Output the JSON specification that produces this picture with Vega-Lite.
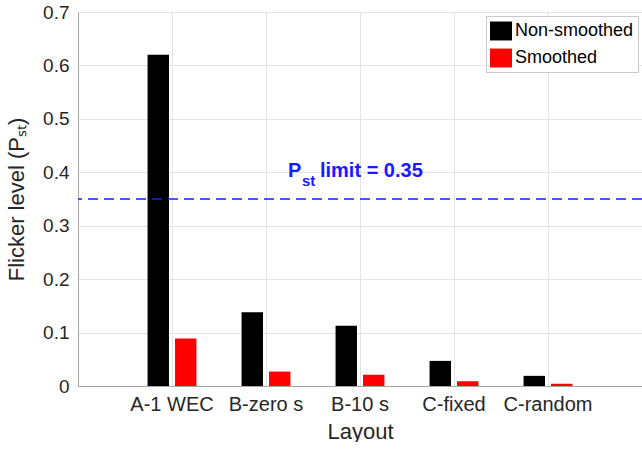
{
  "$schema": "https://vega.github.io/schema/vega-lite/v6.json",
  "width": 564,
  "height": 374,
  "padding": {"left": 5, "top": 3, "right": 0, "bottom": 0},
  "config": {
    "font": "Liberation Sans",
    "view": {"stroke": "#a6a6a6", "strokeWidth": 1},
    "axis": {
      "labelColor": "#262626",
      "titleColor": "#262626",
      "titleFontWeight": "normal",
      "domainColor": "#a6a6a6",
      "gridColor": "#e3e3e3",
      "ticks": false
    }
  },
  "layer": [
    {
      "data": {
        "values": [
          {"layout": "A-1 WEC", "series": "Non-smoothed", "pst": 0.62},
          {"layout": "A-1 WEC", "series": "Smoothed", "pst": 0.089},
          {"layout": "B-zero s", "series": "Non-smoothed", "pst": 0.138},
          {"layout": "B-zero s", "series": "Smoothed", "pst": 0.027},
          {"layout": "B-10 s", "series": "Non-smoothed", "pst": 0.113},
          {"layout": "B-10 s", "series": "Smoothed", "pst": 0.021},
          {"layout": "C-fixed", "series": "Non-smoothed", "pst": 0.047},
          {"layout": "C-fixed", "series": "Smoothed", "pst": 0.009},
          {"layout": "C-random", "series": "Non-smoothed", "pst": 0.019},
          {"layout": "C-random", "series": "Smoothed", "pst": 0.004}
        ]
      },
      "mark": {"type": "bar"},
      "encoding": {
        "x": {
          "field": "layout",
          "type": "nominal",
          "sort": null,
          "scale": {"paddingInner": 0.48, "paddingOuter": 0.74},
          "axis": {
            "title": "Layout",
            "titleFontSize": 22,
            "titlePadding": 7,
            "labelAngle": 0,
            "labelFontSize": 20,
            "labelPadding": 8,
            "grid": true,
            "bandPosition": 0.5
          }
        },
        "xOffset": {
          "field": "series",
          "type": "nominal",
          "sort": null,
          "scale": {"paddingInner": 0.22, "paddingOuter": 0}
        },
        "y": {
          "field": "pst",
          "type": "quantitative",
          "scale": {"domain": [0, 0.7], "nice": false},
          "axis": {
            "title": "Flicker level (Pₛₜ)",
            "titleFontSize": 22,
            "titlePadding": 14,
            "values": [0, 0.1, 0.2, 0.3, 0.4, 0.5, 0.6, 0.7],
            "format": ".1~f",
            "labelFontSize": 19,
            "labelPadding": 9,
            "grid": true
          }
        },
        "color": {
          "field": "series",
          "type": "nominal",
          "sort": null,
          "scale": {"domain": ["Non-smoothed", "Smoothed"], "range": ["#000000", "#ff0000"]},
          "legend": {
            "title": null,
            "orient": "top-right",
            "offset": 4,
            "labelFontSize": 18,
            "labelColor": "#000000",
            "symbolType": "M-1,-0.86H1V0.86H-1Z",
            "symbolSize": 484,
            "symbolStrokeWidth": 0,
            "symbolOpacity": 1,
            "fillColor": "#ffffff",
            "strokeColor": "#c8c8c8",
            "padding": 4,
            "rowPadding": 6,
            "labelOffset": 3
          }
        }
      }
    },
    {
      "data": {"values": [{}]},
      "mark": {"type": "rule", "color": "#1a1aff", "strokeDash": [10, 6], "strokeWidth": 1.5},
      "encoding": {"y": {"datum": 0.35, "type": "quantitative"}}
    },
    {
      "data": {"values": [{}]},
      "mark": {"type": "text", "text": "P", "align": "left", "baseline": "alphabetic", "fontSize": 20, "fontWeight": "bold", "color": "#1a1aff"},
      "encoding": {
        "x": {"datum": 2.234, "type": "quantitative", "scale": {"domain": [0, 6], "nice": false, "zero": false}, "axis": null},
        "y": {"datum": 0.391, "type": "quantitative"}
      }
    },
    {
      "data": {"values": [{}]},
      "mark": {"type": "text", "text": "st", "align": "left", "baseline": "alphabetic", "fontSize": 15, "fontWeight": "bold", "color": "#1a1aff"},
      "encoding": {
        "x": {"datum": 2.383, "type": "quantitative", "scale": {"domain": [0, 6], "nice": false, "zero": false}, "axis": null},
        "y": {"datum": 0.374, "type": "quantitative"}
      }
    },
    {
      "data": {"values": [{}]},
      "mark": {"type": "text", "text": "limit = 0.35", "align": "left", "baseline": "alphabetic", "fontSize": 20, "fontWeight": "bold", "color": "#1a1aff"},
      "encoding": {
        "x": {"datum": 2.574, "type": "quantitative", "scale": {"domain": [0, 6], "nice": false, "zero": false}, "axis": null},
        "y": {"datum": 0.391, "type": "quantitative"}
      }
    }
  ],
  "resolve": {"scale": {"x": "independent"}, "axis": {"x": "independent"}}
}
